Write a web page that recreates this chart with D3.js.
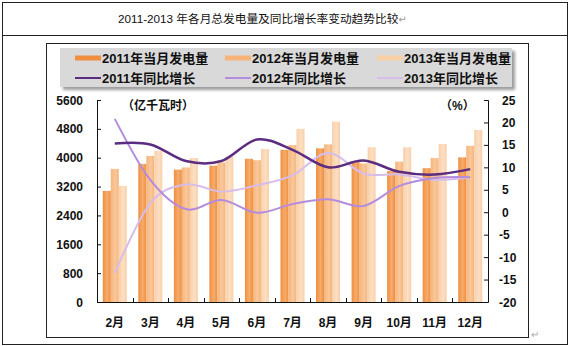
<!DOCTYPE html>
<html>
<head>
<meta charset="utf-8">
<script src="https://cdn.jsdelivr.net/npm/d3@7"></script>
<style>
  body { margin: 0; background: #fff; }
  text { font-family: "Liberation Sans", "Noto Sans CJK SC", sans-serif; }
</style>
</head>
<body>
<script>
// months and series
var months = ["2月", "3月", "4月", "5月", "6月", "7月", "8月", "9月", "10月", "11月", "12月"];
var gen2011 = [3080, 3830, 3670, 3780, 3970, 4220, 4260, 3880, 3630, 3710, 4010];
var gen2012 = [3690, 4050, 3730, 3870, 3930, 4350, 4370, 3840, 3890, 3990, 4330];
var gen2013 = [3220, 4190, 3990, 4030, 4240, 4800, 5000, 4290, 4290, 4380, 4770];
var rate2011 = [15.3, 15.1, 11.4, 11.4, 16.2, 13.9, 10.0, 11.5, 9.0, 8.4, 9.6];
var rate2012 = [20.8, 7.2, 0.7, 2.7, -0.1, 1.8, 2.9, 1.4, 5.8, 7.6, 7.8];
var rate2013 = [-13.5, 2.0, 6.2, 4.6, 6.0, 8.2, 13.2, 8.6, 8.4, 7.2, 7.8];
var leftTicks = [0, 800, 1600, 2400, 3200, 4000, 4800, 5600];
var rightTicks = [-20, -15, -10, -5, 0, 5, 10, 15, 20, 25];

var barSeries = [
  {name: "2011年当月发电量", values: gen2011, color: "#EF8E3F", light: "#F6AC6C"},
  {name: "2012年当月发电量", values: gen2012, color: "#F6B47A", light: "#F9C89C"},
  {name: "2013年当月发电量", values: gen2013, color: "#F9CFA8", light: "#FCDFC4"}
];
var lineSeries = [
  {name: "2011年同比增长", values: rate2011, color: "#5B2C80", width: 2.5},
  {name: "2012年同比增长", values: rate2012, color: "#B48CDD", width: 2},
  {name: "2013年同比增长", values: rate2013, color: "#D6BDEA", width: 2}
];

var W = 570, H = 346;
var svg = d3.select("body").append("svg").attr("width", W).attr("height", H);
var defs = svg.append("defs");

// outer table frame with title row
svg.append("rect").attr("x", 2.5).attr("y", 2.5).attr("width", 565).attr("height", 342)
  .attr("fill", "none").attr("stroke", "#222");
svg.append("line").attr("x1", 2.5).attr("x2", 567.5).attr("y1", 35.5).attr("y2", 35.5).attr("stroke", "#222");
var title = svg.append("text").attr("x", 118).attr("y", 23).attr("font-size", 11.7).attr("fill", "#111");
title.append("tspan").text("2011-2013 年各月总发电量及同比增长率变动趋势比较");
title.append("tspan").attr("fill", "#999").attr("font-size", 10).attr("font-family", "DejaVu Sans").text("↵");

// chart frame
svg.append("rect").attr("x", 46.5).attr("y", 43.5).attr("width", 482).attr("height", 294)
  .attr("fill", "#fff").attr("stroke", "#222");
svg.append("text").attr("x", 531).attr("y", 338).attr("font-size", 10).attr("fill", "#aaa")
  .attr("font-family", "DejaVu Sans").text("↵");

// scales
var plotL = 97, plotR = 488, plotT = 100, plotB = 302;
var x0 = d3.scaleBand().domain(months).range([plotL, plotR]);
var x1 = d3.scaleBand().domain([0, 1, 2]).range([0, x0.bandwidth()]).paddingOuter(0.72);
var yL = d3.scaleLinear().domain([0, 5600]).range([plotB, plotT]);
var yR = d3.scaleLinear().domain([-20, 25]).range([plotB, plotT]);

// bar gradients
barSeries.forEach(function(s, i) {
  var g = defs.append("linearGradient").attr("id", "bar" + i).attr("x1", 0).attr("x2", 1).attr("y1", 0).attr("y2", 0);
  g.append("stop").attr("offset", "0%").attr("stop-color", s.color);
  g.append("stop").attr("offset", "55%").attr("stop-color", s.light);
  g.append("stop").attr("offset", "100%").attr("stop-color", s.color);
});

// bars
var plot = svg.append("g");
barSeries.forEach(function(s, i) {
  plot.selectAll(".bar" + i)
    .data(s.values)
    .enter().append("rect")
    .attr("class", "bar" + i)
    .attr("x", function(d, j) { return x0(months[j]) + x1(i); })
    .attr("y", function(d) { return yL(d); })
    .attr("width", x1.bandwidth())
    .attr("height", function(d) { return plotB - yL(d); })
    .attr("fill", "url(#bar" + i + ")");
});

// growth lines, smoothed
var line = d3.line()
  .x(function(d, j) { return x0(months[j]) + x0.bandwidth() / 2; })
  .y(function(d) { return yR(d); })
  .curve(d3.curveCardinal.tension(0));
lineSeries.slice().reverse().forEach(function(s) {
  plot.append("path").datum(s.values)
    .attr("d", line)
    .attr("fill", "none")
    .attr("stroke", s.color)
    .attr("stroke-width", s.width);
});

// axes (ticks point inward)
svg.append("g").attr("transform", "translate(" + plotL + ",0)")
  .call(d3.axisRight(yL).tickValues(leftTicks).tickSize(4).tickFormat(""))
  .call(function(g) { g.selectAll("path, line").attr("stroke", "#111"); });
svg.append("g").attr("transform", "translate(" + plotR + ",0)")
  .call(d3.axisLeft(yR).tickValues(rightTicks).tickSize(4).tickFormat(""))
  .call(function(g) { g.selectAll("path, line").attr("stroke", "#111"); });
svg.append("line").attr("x1", plotL).attr("x2", plotR).attr("y1", plotB + 0.5).attr("y2", plotB + 0.5)
  .attr("stroke", "#111");
svg.selectAll(".xtick")
  .data(months.slice(1))
  .enter().append("line")
  .attr("x1", function(m) { return Math.round(x0(m)) + 0.5; })
  .attr("x2", function(m) { return Math.round(x0(m)) + 0.5; })
  .attr("y1", plotB).attr("y2", plotB - 4)
  .attr("stroke", "#111");

// tick labels
svg.selectAll(".ly").data(leftTicks).enter().append("text")
  .attr("x", 83).attr("y", function(d) { return yL(d) + 4.5; })
  .attr("text-anchor", "end").attr("font-size", 12).attr("font-weight", "bold").attr("fill", "#111")
  .text(function(d) { return d; });
svg.selectAll(".ry").data(rightTicks).enter().append("text")
  .attr("x", function(d) { return d < 0 ? 499 : 502; }).attr("y", function(d) { return yR(d) + 4.5; })
  .attr("font-size", 12).attr("font-weight", "bold").attr("fill", "#111")
  .text(function(d) { return d; });
svg.selectAll(".xl").data(months).enter().append("text")
  .attr("x", function(m) { return x0(m) + x0.bandwidth() / 2; }).attr("y", 327)
  .attr("text-anchor", "middle").attr("font-size", 12).attr("font-weight", "bold").attr("fill", "#111")
  .text(function(m) { return m; });

// unit labels
svg.append("text").attr("x", 122).attr("y", 110).attr("font-size", 12).attr("font-weight", "bold")
  .attr("fill", "#111").text("（亿千瓦时）");
svg.append("text").attr("x", 440).attr("y", 110).attr("font-size", 12).attr("font-weight", "bold")
  .attr("fill", "#111").text("（%）");

// legend box with soft shadow
var blur = defs.append("filter").attr("id", "shadow");
blur.append("feGaussianBlur").attr("stdDeviation", 1.5);
svg.append("rect").attr("x", 63).attr("y", 51).attr("width", 452).attr("height", 39)
  .attr("fill", "#9c9c9c").attr("filter", "url(#shadow)");
svg.append("rect").attr("x", 60).attr("y", 48).attr("width", 452).attr("height", 39)
  .attr("fill", "#D9D9D9");

var colX = [75, 225, 377];
var legend = svg.append("g");
barSeries.forEach(function(s, i) {
  legend.append("rect").attr("x", colX[i]).attr("y", 55.5).attr("width", 26).attr("height", 5)
    .attr("fill", s.color);
  legend.append("text").attr("x", colX[i] + 27).attr("y", 62.5).attr("font-size", 13)
    .attr("font-weight", "bold").attr("fill", "#111").text(s.name);
});
lineSeries.forEach(function(s, i) {
  legend.append("line").attr("x1", colX[i]).attr("x2", colX[i] + 26).attr("y1", 78).attr("y2", 78)
    .attr("stroke", s.color).attr("stroke-width", 2);
  legend.append("text").attr("x", colX[i] + 27).attr("y", 82.5).attr("font-size", 13)
    .attr("font-weight", "bold").attr("fill", "#111").text(s.name);
});
</script>
</body>
</html>
